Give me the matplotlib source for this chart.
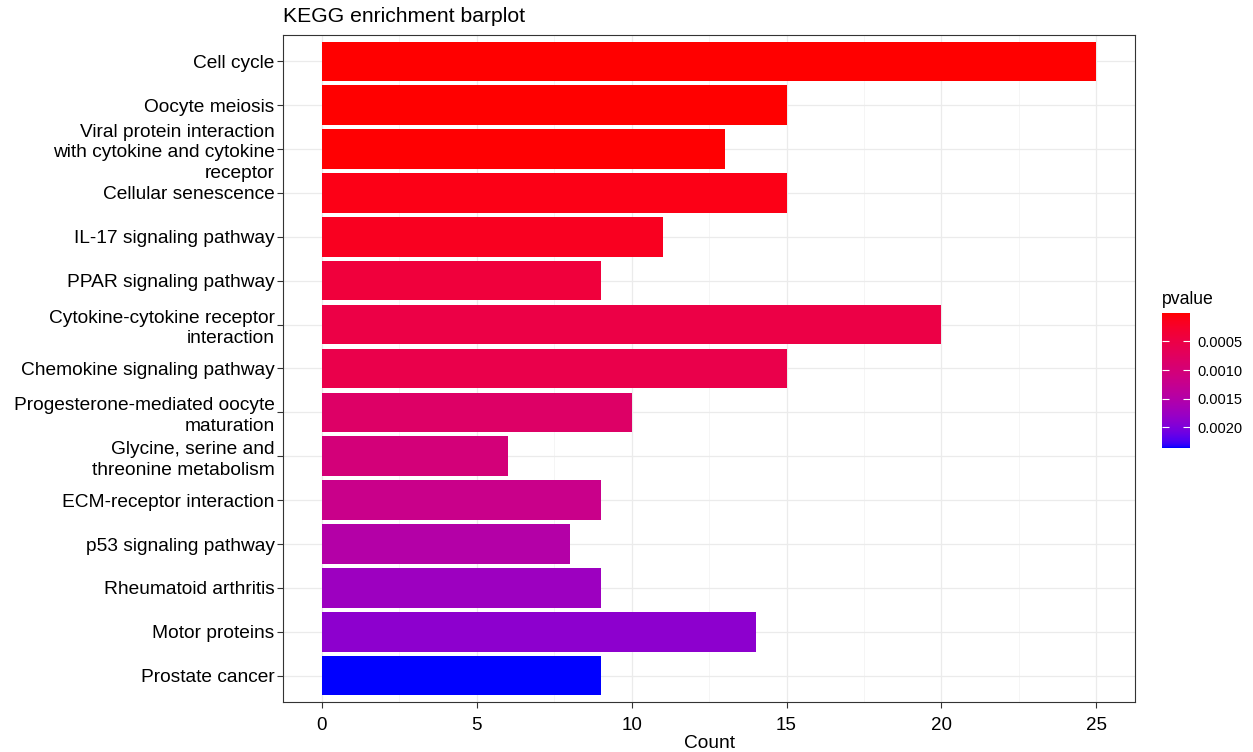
import numpy as np
import matplotlib.pyplot as plt
from matplotlib.colors import ListedColormap, Normalize

# Datos (de arriba hacia abajo).
pathways = ['Cell cycle', 'Oocyte meiosis',
            'Viral protein interaction\nwith cytokine and cytokine\nreceptor',
            'Cellular senescence', 'IL-17 signaling pathway',
            'PPAR signaling pathway',
            'Cytokine-cytokine receptor\ninteraction',
            'Chemokine signaling pathway',
            'Progesterone-mediated oocyte\nmaturation',
            'Glycine, serine and\nthreonine metabolism',
            'ECM-receptor interaction', 'p53 signaling pathway',
            'Rheumatoid arthritis', 'Motor proteins', 'Prostate cancer']
counts = [25, 15, 13, 15, 11, 9, 20, 15, 10, 6, 9, 8, 9, 14, 9]
pvalues = [0.000005, 0.00001, 0.000017, 0.0001, 0.00017, 0.000405,
           0.0005, 0.00055, 0.00083, 0.00102, 0.0012, 0.00149,
           0.00175, 0.00189, 0.00236]
cbar_ticks = [0.0005, 0.0010, 0.0015, 0.0020]


# Gradiente rojo -> azul interpolado en espacio Lab (como ggplot2).
def srgb_to_lab(c):
    c = np.asarray(c, dtype=float)
    lin = np.where(c <= 0.04045, c / 12.92, ((c + 0.055) / 1.055) ** 2.4)
    m = np.array([[0.4124, 0.3576, 0.1805],
                  [0.2126, 0.7152, 0.0722],
                  [0.0193, 0.1192, 0.9505]])
    xyz = m @ lin / np.array([0.95047, 1.0, 1.08883])
    f = np.where(xyz > 0.008856, np.cbrt(xyz), 7.787 * xyz + 16 / 116)
    return np.array([116 * f[1] - 16, 500 * (f[0] - f[1]), 200 * (f[1] - f[2])])


def lab_to_srgb(lab):
    L, a, b = lab
    fy = (L + 16) / 116
    fx = fy + a / 500
    fz = fy - b / 200
    f = np.array([fx, fy, fz])
    xyz = np.where(f ** 3 > 0.008856, f ** 3, (f - 16 / 116) / 7.787)
    xyz = xyz * np.array([0.95047, 1.0, 1.08883])
    m = np.array([[3.2406, -1.5372, -0.4986],
                  [-0.9689, 1.8758, 0.0415],
                  [0.0557, -0.2040, 1.0570]])
    lin = np.clip(m @ xyz, 0, 1)
    c = np.where(lin <= 0.0031308, 12.92 * lin,
                 1.055 * lin ** (1 / 2.4) - 0.055)
    return np.clip(c, 0, 1)


lab_red = srgb_to_lab([1, 0, 0])
lab_blue = srgb_to_lab([0, 0, 1])
colores = [lab_to_srgb(lab_red + t * (lab_blue - lab_red))
           for t in np.linspace(0, 1, 256)]
cmap = ListedColormap(colores)
norm = Normalize(vmin=min(pvalues), vmax=max(pvalues))

plt.rcParams['font.family'] = ['Liberation Sans', 'DejaVu Sans']

fig = plt.figure(figsize=(12.53, 7.52), dpi=100)
ax = fig.add_axes([0.2259, 0.0665, 0.6800, 0.8870])

y = np.arange(len(pathways))
ax.barh(y, counts, height=0.9, color=cmap(norm(np.array(pvalues))),
        zorder=3)

ax.set_xlim(-1.25, 26.25)
ax.set_ylim(len(pathways) - 1 + 0.6, -0.6)
ax.set_xticks([0, 5, 10, 15, 20, 25])
ax.set_xticks([2.5, 7.5, 12.5, 17.5, 22.5], minor=True)
ax.set_yticks(y)
ax.set_yticklabels(pathways, fontsize=13.75, color='black', linespacing=1.27)
ax.tick_params(axis='x', labelsize=13.5, labelcolor='black', pad=6.5)
ax.tick_params(axis='y', pad=2)
ax.tick_params(which='major', length=4, width=0.8, color='#333333')
ax.tick_params(which='minor', length=0)
ax.grid(which='major', color='#ebebeb', linewidth=0.9, zorder=0)
ax.grid(which='minor', axis='x', color='#f2f2f2', linewidth=0.5, zorder=0)
for s in ax.spines.values():
    s.set_color('#333333')
    s.set_linewidth(0.8)

ax.set_xlabel('Count', fontsize=13.8, labelpad=1)
ax.set_title('KEGG enrichment barplot', loc='left', fontsize=15.2, pad=9)

# Barra de color.
cax = fig.add_axes([0.9274, 0.4043, 0.0223, 0.1795])
sm = plt.cm.ScalarMappable(cmap=cmap, norm=norm)
cbar = fig.colorbar(sm, cax=cax)
cbar.set_ticks(cbar_ticks)
cbar.set_ticklabels(['0.0005', '0.0010', '0.0015', '0.0020'])
cbar.ax.invert_yaxis()
cbar.outline.set_visible(False)
cbar.ax.yaxis.set_ticks_position('both')
cbar.ax.tick_params(direction='in', color='white', length=5, width=0.8,
                    labelsize=10.5, pad=5, labelleft=False, labelright=True)
fig.text(0.9274, 0.591, 'pvalue', fontsize=12.7, ha='left', va='bottom')

fig.savefig('out.png', dpi=100)
